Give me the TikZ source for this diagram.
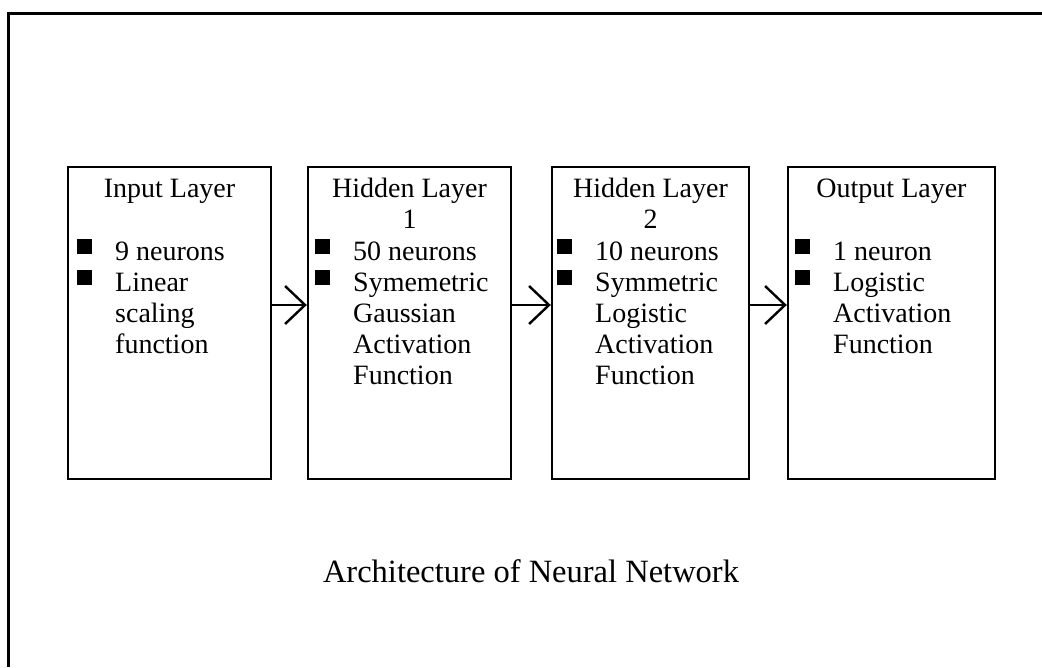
\documentclass[tikz,border=0pt]{standalone}
\usepackage{fontspec}
\setmainfont{Liberation Serif}
\usetikzlibrary{arrows.meta}
% square bullet sitting slightly above the baseline
\newcommand\layerbullet{\rule[6pt]{15pt}{15pt}}
\begin{document}
\begin{tikzpicture}[x=1pt,y=-1pt,
  layer/.style={draw, line width=2.4pt, minimum height=312pt, inner sep=0pt},
  heading/.style={anchor=base, inner sep=0pt, font=\fontsize{28}{31}\selectfont},
  items/.style={anchor=base west, inner sep=0pt, font=\fontsize{28}{31}\selectfont},
  link/.style={line width=2.4pt, -{Straight Barb[length=20pt,width=38pt]}},
  frame/.style={line width=3pt, line join=miter},
  caption/.style={anchor=base, inner sep=0pt, font=\fontsize{32.5}{36}\selectfont}]
\useasboundingbox (0,0) rectangle (1042,667);

% outer frame (top and left edges)
\draw[frame] (8,667) -- (8,13) -- (1042,13);

% layer boxes
\node[layer, minimum width=203pt] (in)  at (169.5,323) {};
\node[layer, minimum width=203pt] (h1)  at (409.5,323) {};
\node[layer, minimum width=197pt] (h2)  at (650.5,323) {};
\node[layer, minimum width=207pt] (out) at (891.5,323) {};

% box headings
\node[heading] (inT)  at (169.5,197) {Input Layer};
\node[heading] (h1T)  at (409.5,197) {\begin{tabular}[t]{@{}c@{}}Hidden Layer\\1\end{tabular}};
\node[heading] (h2T)  at (650.5,197) {\begin{tabular}[t]{@{}c@{}}Hidden Layer\\2\end{tabular}};
\node[heading] (outT) at (891.5,197) {Output Layer};

% bullet lists
\node[items] (inL) at (77,260) {\begin{tabular}[t]{@{}l@{\hspace{23pt}}l@{}}
  \layerbullet & 9 neurons\\ \layerbullet & Linear\\ & scaling\\ & function\end{tabular}};
\node[items] (h1L) at (315,260) {\begin{tabular}[t]{@{}l@{\hspace{23pt}}l@{}}
  \layerbullet & 50 neurons\\ \layerbullet & Symemetric\\ & Gaussian\\ & Activation\\ & Function\end{tabular}};
\node[items] (h2L) at (557,260) {\begin{tabular}[t]{@{}l@{\hspace{23pt}}l@{}}
  \layerbullet & 10 neurons\\ \layerbullet & Symmetric\\ & Logistic\\ & Activation\\ & Function\end{tabular}};
\node[items] (outL) at (795,260) {\begin{tabular}[t]{@{}l@{\hspace{23pt}}l@{}}
  \layerbullet & 1 neuron\\ \layerbullet & Logistic\\ & Activation\\ & Function\end{tabular}};

% connections between layers
\draw[link] ([yshift=18pt]in.east) -- ([yshift=18pt]h1.west);
\draw[link] ([yshift=18pt]h1.east) -- ([yshift=18pt]h2.west);
\draw[link] ([yshift=18pt]h2.east) -- ([yshift=18pt]out.west);

% caption
\node[caption] (cap) at (531,582) {Architecture of Neural Network};
\end{tikzpicture}
\end{document}
